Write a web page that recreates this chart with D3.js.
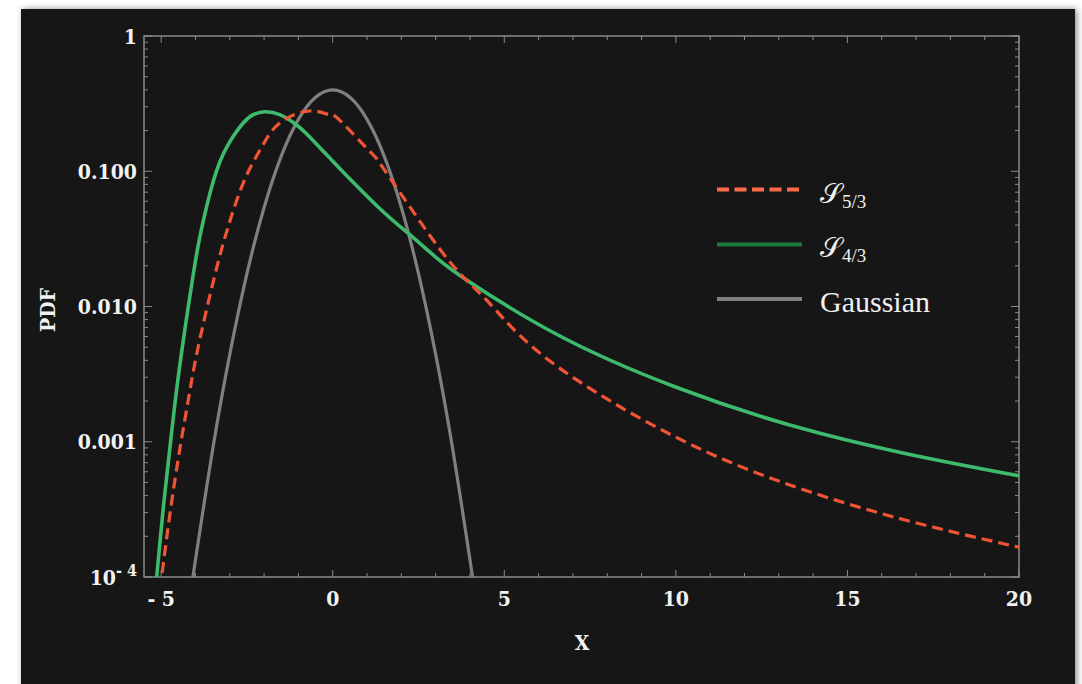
<!DOCTYPE html>
<html>
<head>
<meta charset="utf-8">
<script src="https://cdn.jsdelivr.net/npm/d3@7"></script>
<style>
  html, body { margin: 0; padding: 0; background: #ffffff; }
  svg { display: block; }
  .tick-label { font-family: "DejaVu Serif", serif; font-weight: bold; font-stretch: condensed; font-size: 21px; fill: #f2f2f2; }
  .axis-title { font-family: "DejaVu Serif", serif; font-weight: bold; font-stretch: condensed; font-size: 21px; fill: #f2f2f2; }
  .legend-text { font-family: "Liberation Serif", serif; fill: #f0f0f0; }
</style>
</head>
<body>
<script>
// ---------------- data ----------------
const xDomain = [-5.5, 20];
const yDomain = [1e-4, 1];

const xTickValues = [-5, 0, 5, 10, 15, 20];
const xTickLabels = ["- 5", "0", "5", "10", "15", "20"];
const yTickValues = [1, 0.1, 0.01, 0.001, 0.0001];
const yTickLabels = ["1", "0.100", "0.010", "0.001", "10^-4"];

const seriesNames = ["S5/3", "S4/3", "Gaussian"];

// S_{5/3}
const s53X = [-5.204, -4.985, -4.74, -4.46, -4.20, -3.94, -3.47, -3.06, -2.57, -2.07, -1.545, -0.67, -0.09, 0.20, 1.08, 1.37, 2.245, 3.41, 4.29, 4.97, 6.62, 9.97, 13.32, 16.68, 20.0];
const s53Y = [3.4e-5, 1.0e-4, 2.97e-4, 8.7e-4, 2.1e-3, 4.77e-3, 1.57e-2, 3.80e-2, 8.61e-2, 0.151, 0.2274, 0.279, 0.261, 0.239, 0.140, 0.115, 0.0547, 0.0214, 0.0125, 0.00817, 0.00349, 0.00109, 4.79e-4, 2.64e-4, 1.66e-4];

// S_{4/3}
const s43X = [-5.31, -5.13, -4.93, -4.72, -4.475, -4.09, -3.83, -3.47, -3.08, -2.615, -2.30, -1.98, -1.545, -1.061, -0.729, -0.379, -0.087, 0.204, 1.37, 2.245, 3.0, 3.99, 6.62, 9.97, 13.32, 16.68, 20.0];
const s43Y = [3.4e-5, 1.0e-4, 3.4e-4, 1.03e-3, 3.39e-3, 1.57e-2, 3.68e-2, 8.61e-2, 0.152, 0.2264, 0.263, 0.2756, 0.262, 0.2208, 0.1854, 0.150, 0.1256, 0.105, 0.0531, 0.0340, 0.0232, 0.01517, 0.00605, 0.00255, 0.00133, 8.2e-4, 5.6e-4];

// Gaussian
const gaussX = [-4.3, -4.0, -3.5, -3.0, -2.5, -2.0, -1.5, -1.0, -0.5, 0, 0.5, 1.0, 1.5, 2.0, 2.5, 3.0, 3.5, 4.0, 4.3];
const gaussY = [4.1e-5, 1.34e-4, 8.73e-4, 4.43e-3, 1.75e-2, 5.40e-2, 0.1295, 0.242, 0.352, 0.399, 0.352, 0.242, 0.1295, 5.40e-2, 1.75e-2, 4.43e-3, 8.73e-4, 1.34e-4, 4.1e-5];

// ---------------- layout ----------------
const W = 1082, H = 684;
const plot = { left: 144, right: 1019, top: 36, bottom: 577 };

const svg = d3.select("body").append("svg").attr("width", W).attr("height", H);
const defs = svg.append("defs");
const f = defs.append("filter").attr("id", "shadow").attr("x", "-5%").attr("y", "-5%").attr("width", "110%").attr("height", "110%");
f.append("feDropShadow").attr("dx", 2).attr("dy", 0).attr("stdDeviation", 3).attr("flood-color", "#000").attr("flood-opacity", 0.45);
defs.append("clipPath").attr("id", "clip").append("rect")
  .attr("x", plot.left).attr("y", plot.top)
  .attr("width", plot.right - plot.left).attr("height", plot.bottom - plot.top);

// panel
svg.append("rect").attr("x", 21).attr("y", 9).attr("width", 1054).attr("height", 700)
  .attr("fill", "#191919").attr("filter", "url(#shadow)");

const x = d3.scaleLinear().domain(xDomain).range([plot.left, plot.right]);
const y = d3.scaleLog().domain(yDomain).range([plot.bottom, plot.top]);

const frameColor = "#8a8a8a";

// ticks
const xMinor = d3.range(-5, 21, 1);
const g = svg.append("g");
xMinor.forEach(v => {
  const major = v % 5 === 0;
  const len = major ? 7 : 4;
  g.append("line").attr("x1", x(v)).attr("x2", x(v)).attr("y1", plot.bottom).attr("y2", plot.bottom - len)
    .attr("stroke", frameColor).attr("stroke-width", 1);
  g.append("line").attr("x1", x(v)).attr("x2", x(v)).attr("y1", plot.top).attr("y2", plot.top + len)
    .attr("stroke", frameColor).attr("stroke-width", 1);
});
const yMinor = [];
[1e-4, 1e-3, 1e-2, 1e-1].forEach(d => { for (let k = 1; k <= 9; k++) yMinor.push({ v: d * k, major: k === 1 }); });
yMinor.push({ v: 1, major: true });
yMinor.forEach(t => {
  const len = t.major ? 8 : 4;
  g.append("line").attr("x1", plot.left).attr("x2", plot.left + len).attr("y1", y(t.v)).attr("y2", y(t.v))
    .attr("stroke", frameColor).attr("stroke-width", 1);
  g.append("line").attr("x1", plot.right).attr("x2", plot.right - len).attr("y1", y(t.v)).attr("y2", y(t.v))
    .attr("stroke", frameColor).attr("stroke-width", 1);
});

// frame
svg.append("rect").attr("x", plot.left).attr("y", plot.top)
  .attr("width", plot.right - plot.left).attr("height", plot.bottom - plot.top)
  .attr("fill", "none").attr("stroke", frameColor).attr("stroke-width", 1.5);

// x tick labels
xTickValues.forEach((v, i) => {
  svg.append("text").attr("class", "tick-label").attr("x", x(v)).attr("y", 606)
    .attr("text-anchor", "middle").text(xTickLabels[i]);
});
// y tick labels
yTickValues.forEach((v, i) => {
  const lab = yTickLabels[i];
  const t = svg.append("text").attr("class", "tick-label").attr("x", 137).attr("y", y(v) + 7.5)
    .attr("text-anchor", "end");
  if (lab.includes("^")) {
    const [base, exp] = lab.split("^");
    t.append("tspan").text(base);
    t.append("tspan").attr("dy", -9).attr("font-size", "16px").text(exp.replace("-", "- "));
  } else {
    t.text(lab);
  }
});

// axis titles
svg.append("text").attr("class", "axis-title").attr("x", 582).attr("y", 650).attr("text-anchor", "middle").text("X");
svg.append("text").attr("class", "axis-title").attr("transform", "translate(55,310) rotate(-90)")
  .attr("text-anchor", "middle").text("PDF");

// curves
const line = d3.line().x(d => x(d[0])).y(d => y(d[1])).curve(d3.curveNatural);
const curves = svg.append("g").attr("clip-path", "url(#clip)");
curves.append("path").datum(d3.zip(gaussX, gaussY)).attr("d", line)
  .attr("fill", "none").attr("stroke", "#7f7f7f").attr("stroke-width", 3.2);
curves.append("path").datum(d3.zip(s43X, s43Y)).attr("d", line)
  .attr("fill", "none").attr("stroke", "#3dba6b").attr("stroke-width", 3.6);
curves.append("path").datum(d3.zip(s53X, s53Y)).attr("d", line)
  .attr("fill", "none").attr("stroke", "#ef5535").attr("stroke-width", 3.2)
  .attr("stroke-dasharray", "11,6");

// legend
const legend = [
  { name: seriesNames[0], color: "#ff6a4a", dash: "12,5.5", yLine: 189.5, yText: 203, sub: "5/3" },
  { name: seriesNames[1], color: "#1a7a3a", dash: null, yLine: 244.5, yText: 257, sub: "4/3" },
  { name: seriesNames[2], color: "#7f7f7f", dash: null, yLine: 299, yText: 312, sub: null }
];
legend.forEach(L => {
  const ln = svg.append("line").attr("x1", 717).attr("x2", 802).attr("y1", L.yLine).attr("y2", L.yLine)
    .attr("stroke", L.color).attr("stroke-width", 4);
  if (L.dash) ln.attr("stroke-dasharray", L.dash);
  const t = svg.append("text").attr("class", "legend-text").attr("x", 820).attr("y", L.yText);
  if (L.sub) {
    t.append("tspan").attr("font-size", "28px").text("\u{1D4AE}");
    t.append("tspan").attr("font-size", "19px").attr("dy", 5).text(L.sub);
  } else {
    t.attr("font-size", "30px").text(L.name);
  }
});
</script>
</body>
</html>
